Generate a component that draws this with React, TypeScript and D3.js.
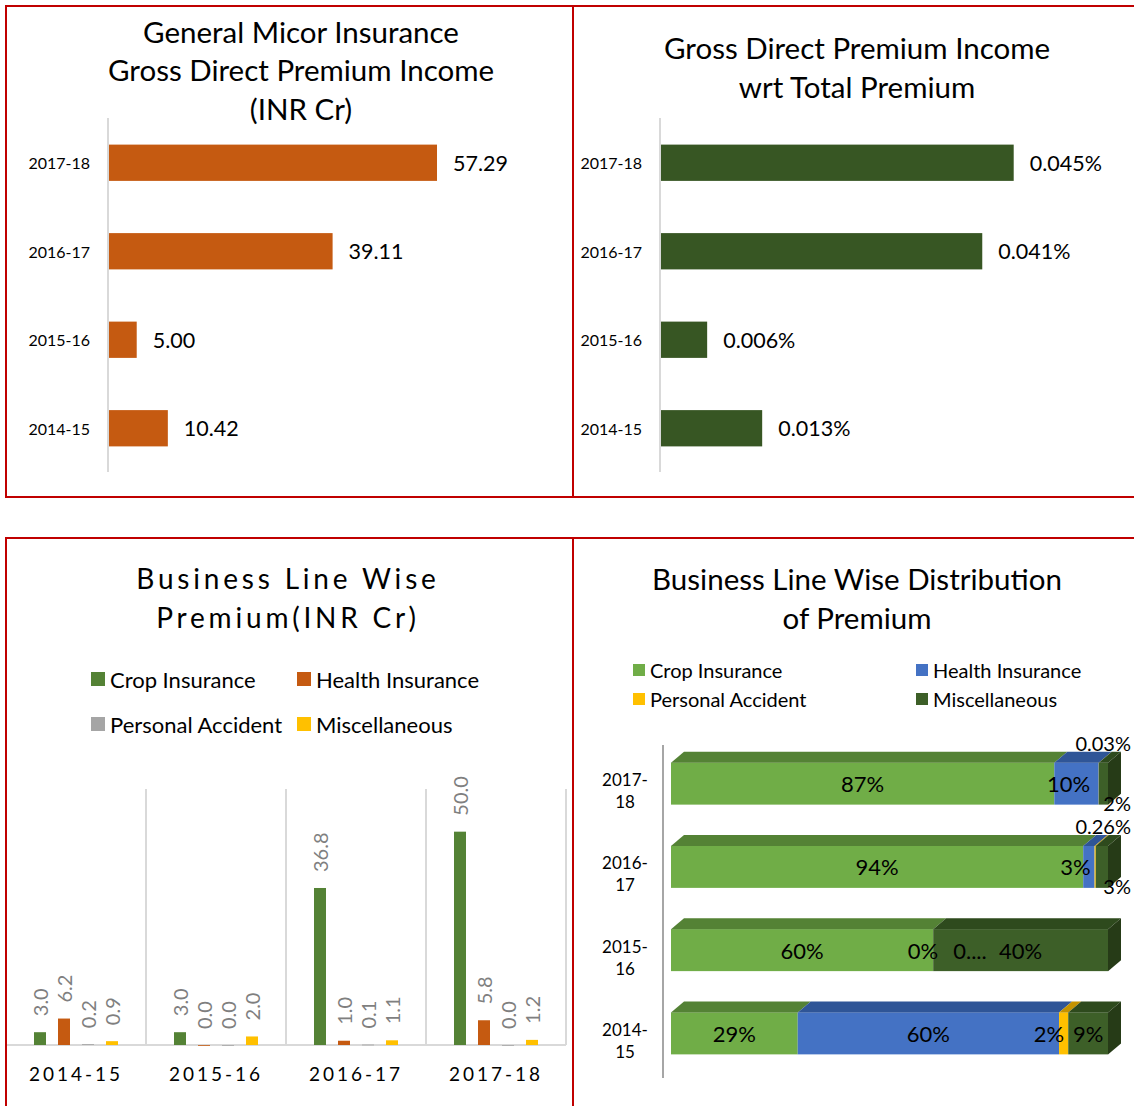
import React from "react";
import * as d3 from "d3";

// years as shown on the charts
const years = ["2014-15", "2015-16", "2016-17", "2017-18"];
const grossPremium = [10.42, 5.0, 39.11, 57.29];
const shareOfTotal = [0.013, 0.006, 0.041, 0.045];

const lines = ["Crop Insurance", "Health Insurance", "Personal Accident", "Miscellaneous"];
const cropPremium = [3.0, 3.0, 36.8, 50.0];
const healthPremium = [6.2, 0.0, 1.0, 5.8];
const paPremium = [0.2, 0.0, 0.1, 0.0];
const miscPremium = [0.9, 2.0, 1.1, 1.2];

// percent distribution per year
const cropShare = [29.0, 60.0, 94.1, 87.3];
const healthShare = [59.8, 0.0, 2.6, 10.1];
const paShare = [2.1, 0.0, 0.26, 0.03];
const miscShare = [9.1, 40.0, 2.8, 2.1];
const paLabels = ["2%", "0....", "0.26%", "0.03%"];

const FONT = "Lato, 'Open Sans', sans-serif";
const RED = "#c00000";

function HBarChart({ values, fmt, color, axisX, xMax, xEnd }) {
  const cats = [...years].reverse();
  const vals = [...values].reverse();
  const y = d3.scaleBand().domain(cats).range([118.5, 472.5]).paddingInner(0.59).paddingOuter(0.295);
  const x = d3.scaleLinear().domain([0, xMax]).range([axisX, xEnd]);
  return (
    <g>
      {cats.map((c, i) => (
        <g key={c}>
          <rect x={x(0)} y={y(c)} width={x(vals[i]) - x(0)} height={y.bandwidth()} fill={color} />
          <text x={axisX - 18} y={y(c) + y.bandwidth() / 2} textAnchor="end" dominantBaseline="central"
            fontSize={16} fill="#000">{c}</text>
          <text x={x(vals[i]) + 16} y={y(c) + y.bandwidth() / 2} dominantBaseline="central"
            fontSize={21.5} fill="#000">{fmt(vals[i])}</text>
        </g>
      ))}
      <line x1={axisX} x2={axisX} y1={118} y2={472} stroke="#d9d9d9" strokeWidth={2} />
    </g>
  );
}

function GroupedChart() {
  const series = [cropPremium, healthPremium, paPremium, miscPremium];
  const colors = ["#548235", "#c55a11", "#a5a5a5", "#ffc000"];
  const x0 = d3.scaleBand().domain(years).range([6, 566]);
  const x1 = d3.scaleBand().domain(lines).range([22, 118]).paddingInner(0.5).paddingOuter(0.25);
  const y = d3.scaleLinear().domain([0, 60]).range([1045, 789]);
  const fmt = d3.format(".1f");
  return (
    <g>
      {years.map((yr) => (
        <line key={yr} x1={x0(yr) + x0.bandwidth()} x2={x0(yr) + x0.bandwidth()} y1={789} y2={1045}
          stroke="#d9d9d9" strokeWidth={2} />
      ))}
      <line x1={6} x2={566} y1={1045} y2={1045} stroke="#d9d9d9" strokeWidth={2} />
      {years.map((yr, j) => (
        <g key={yr}>
          {lines.map((ln, k) => {
            const v = series[k][j];
            const bx = x0(yr) + x1(ln);
            const cx = bx + x1.bandwidth() / 2;
            const top = y(v);
            return (
              <g key={ln}>
                <rect x={bx} y={top} width={x1.bandwidth()} height={Math.max(y(0) - top, 0.8)} fill={colors[k]} />
                <text transform={`translate(${cx},${top - 16}) rotate(-90)`} dominantBaseline="central"
                  fontSize={20} fill="#7f7f7f">{fmt(v)}</text>
              </g>
            );
          })}
          <text x={x0(yr) + x0.bandwidth() / 2} y={1073} textAnchor="middle" dominantBaseline="central"
            fontSize={19} letterSpacing={3} fill="#000">{yr}</text>
        </g>
      ))}
      {lines.map((ln, k) => {
        const lx = k % 2 === 0 ? 91 : 297;
        const ly = k < 2 ? 679 : 724;
        return (
          <g key={ln}>
            <rect x={lx} y={ly - 7} width={14} height={14} fill={colors[k]} />
            <text x={lx + 19} y={ly} dominantBaseline="central" fontSize={22} fill="#000">{ln}</text>
          </g>
        );
      })}
    </g>
  );
}

function StackedChart() {
  const shares = [cropShare, healthShare, paShare, miscShare];
  const front = ["#70ad47", "#4472c4", "#ffc000", "#3d5f28"];
  const topC = ["#548235", "#2f5597", "#c49300", "#2e4a1d"];
  const sideC = ["#4a7a2c", "#2a4d8a", "#b08400", "#263b17"];
  const rows = years.map((yr, j) => {
    const r = { year: yr };
    lines.forEach((ln, k) => (r[ln] = shares[k][j]));
    return r;
  });
  const stack = d3.stack().keys(lines).offset(d3.stackOffsetExpand)(rows);
  const x = d3.scaleLinear().domain([0, 1]).range([671, 1108]);
  const y = d3.scaleBand().domain([...years].reverse()).range([742, 1075]).paddingInner(0.5).paddingOuter(0.25);
  const dx = 13, dy = 11;
  const h = 42;
  const pct = (v) => (v >= 1 ? d3.format(".0f")(v) + "%" : v > 0 ? d3.format(".2f")(v) + "%" : "0%");
  return (
    <g>
      <line x1={663} x2={663} y1={745} y2={1078} stroke="#a6a6a6" strokeWidth={2} />
      {years.map((yr, j) => {
        const cy = y(yr) + y.bandwidth() / 2;
        const yt = cy - h / 2;
        const segs = stack.map((s, k) => ({ k, a: x(s[j][0]), b: x(s[j][1]) }));
        const last = segs.filter((s) => s.b - s.a > 0.01).slice(-1)[0];
        const [l1, l2] = yr.split("-");
        return (
          <g key={yr}>
            <text x={625} y={cy - 4} textAnchor="middle" dominantBaseline="central" fontSize={17} fill="#000">{l1}-</text>
            <text x={625} y={cy + 18} textAnchor="middle" dominantBaseline="central" fontSize={17} fill="#000">{l2}</text>
            {segs.map((s) => (
              <g key={s.k}>
                <rect x={s.a} y={yt} width={s.b - s.a} height={h} fill={front[s.k]} />
                <path d={`M${s.a},${yt}L${s.a + dx},${yt - dy}L${s.b + dx},${yt - dy}L${s.b},${yt}Z`} fill={topC[s.k]} />
              </g>
            ))}
            <path d={`M${last.b},${yt}L${last.b + dx},${yt - dy}L${last.b + dx},${yt + h - dy}L${last.b},${yt + h}Z`}
              fill={sideC[last.k]} />
            {segs.map((s) => {
              const v = shares[s.k][j];
              const w = s.b - s.a;
              let tx = (s.a + s.b) / 2, ty = cy, anchor = "middle", fs = 22;
              const label = s.k === 2 ? paLabels[j] : pct(v);
              if (v === 0 && s.k === 1) { tx = s.a + 5; anchor = "end"; }
              else if (v === 0 && s.k === 2) { tx = s.a + 20; anchor = "start"; }
              else if (v > 0 && v < 1) { tx = x(1) + dx + 10; ty = yt - 20; anchor = "end"; fs = 20; }
              else if (s.k === 3 && w < 20) { tx = x(1) + dx + 10; ty = yt + h - 2; anchor = "end"; fs = 20; }
              else if (w < 20) { tx = s.b - 4; anchor = "end"; }
              else if (s.k === 1 && w < 50) { tx = Math.min(tx, s.b - 30); }
              return (
                <text key={"l" + s.k} x={tx} y={ty} textAnchor={anchor} dominantBaseline="central"
                  fontSize={fs} fill="#000">{label}</text>
              );
            })}
          </g>
        );
      })}
      {lines.map((ln, k) => {
        const lx = k % 2 === 0 ? 633 : 916;
        const ly = k < 2 ? 670 : 699;
        return (
          <g key={ln}>
            <rect x={lx} y={ly - 6} width={12} height={12} fill={front[k]} />
            <text x={lx + 17} y={ly} dominantBaseline="central" fontSize={20} fill="#000">{ln}</text>
          </g>
        );
      })}
    </g>
  );
}

function Title({ x, ys, texts, spacing = 0, size = 29.5 }) {
  return (
    <g>
      {texts.map((t, i) => (
        <text key={t} x={x} y={ys[i]} textAnchor="middle" dominantBaseline="central" fontSize={size}
          letterSpacing={spacing} fill="#000">{t}</text>
      ))}
    </g>
  );
}

export default function App() {
  return (
    <svg width={1134} height={1106} style={{ position: "absolute", left: 0, top: 0 }} fontFamily={FONT}>
      <rect width={1134} height={1106} fill="#fff" />
      <Title x={301} ys={[31, 69, 108]} texts={["General Micor Insurance", "Gross Direct Premium Income", "(INR Cr)"]} />
      <HBarChart values={grossPremium} fmt={d3.format(".2f")} color="#c55a11" axisX={108} xMax={70} xEnd={510} />
      <Title x={857} ys={[47, 86]} texts={["Gross Direct Premium Income", "wrt Total Premium"]} />
      <HBarChart values={shareOfTotal} fmt={(v) => d3.format(".3f")(v) + "%"} color="#375623" axisX={660} xMax={0.05} xEnd={1053} />
      <Title x={288} ys={[578, 617]} texts={["Business Line Wise", "Premium(INR Cr)"]} spacing={3.8} size={28} />
      <GroupedChart />
      <Title x={857} ys={[578, 617]} texts={["Business Line Wise Distribution", "of Premium"]} />
      <StackedChart />
      {/* panel borders */}
      <g stroke={RED} strokeWidth={2}>
        <line x1={5} x2={1134} y1={6} y2={6} />
        <line x1={5} x2={1134} y1={497} y2={497} />
        <line x1={5} x2={1134} y1={538} y2={538} />
        <line x1={6} x2={6} y1={6} y2={497} />
        <line x1={573} x2={573} y1={6} y2={497} />
        <line x1={6} x2={6} y1={538} y2={1106} />
        <line x1={573} x2={573} y1={538} y2={1106} />
      </g>
    </svg>
  );
}
